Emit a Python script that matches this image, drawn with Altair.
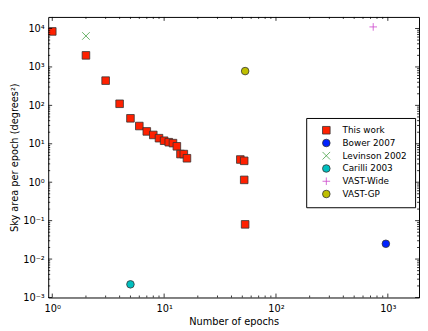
import json
import altair as alt
import pandas as pd

# ---------------- data ----------------
SERIES = ["This work", "Bower 2007", "Levinson 2002", "Carilli 2003", "VAST-Wide", "VAST-GP"]

this_work_epochs = [1, 2, 3, 4, 5, 6, 7, 8, 9, 10, 11, 12, 13, 14, 15, 16, 48, 52, 52, 53]
this_work_area = [8400, 2000, 440, 110, 46, 29, 21, 17, 14, 12, 11, 10.4, 8.6, 5.4, 5.4, 4.2,
                  3.9, 3.6, 1.15, 0.08]
bower_epochs = [960]
bower_area = [0.025]
levinson_epochs = [2]
levinson_area = [6400]
carilli_epochs = [5]
carilli_area = [0.0022]
vast_wide_epochs = [740]
vast_wide_area = [11000]
vast_gp_epochs = [53]
vast_gp_area = [780]

fill_colors = ["#ff2000", "#0022ff", "transparent", "#00bfbf", "transparent", "#bfbf00"]
stroke_colors = ["#333333", "#333333", "#44a044", "#333333", "#cc44cc", "#333333"]
shapes = ["square", "circle", "M-1,-1L1,1M-1,1L1,-1", "circle", "M-1,0L1,0M0,-1L0,1", "circle"]

x_major = [1, 10, 100, 1000]
x_minor = [2, 3, 4, 5, 6, 7, 8, 9, 20, 30, 40, 50, 60, 70, 80, 90,
           200, 300, 400, 500, 600, 700, 800, 900]
y_major = [0.001, 0.01, 0.1, 1, 10, 100, 1000, 10000]
y_minor = [0.002, 0.003, 0.004, 0.005, 0.006, 0.007, 0.008, 0.009,
           0.02, 0.03, 0.04, 0.05, 0.06, 0.07, 0.08, 0.09,
           0.2, 0.3, 0.4, 0.5, 0.6, 0.7, 0.8, 0.9,
           2, 3, 4, 5, 6, 7, 8, 9,
           20, 30, 40, 50, 60, 70, 80, 90,
           200, 300, 400, 500, 600, 700, 800, 900,
           2000, 3000, 4000, 5000, 6000, 7000, 8000, 9000]
x_labels = ["10⁰", "10¹", "10²", "10³"]
y_labels = ["10⁻³", "10⁻²", "10⁻¹", "10⁰", "10¹", "10²", "10³", "10⁴"]

# ---------------- tables ----------------
groups = [
    ("This work", this_work_epochs, this_work_area),
    ("Bower 2007", bower_epochs, bower_area),
    ("Levinson 2002", levinson_epochs, levinson_area),
    ("Carilli 2003", carilli_epochs, carilli_area),
    ("VAST-Wide", vast_wide_epochs, vast_wide_area),
    ("VAST-GP", vast_gp_epochs, vast_gp_area),
]
rows = []
for name, xs_, ys_ in groups:
    for a, b in zip(xs_, ys_):
        rows.append({"series": name, "v": a, "w": b})
df = pd.DataFrame(rows)

W, H = 378, 286
FONT = "DejaVu Sans"

xscale = alt.Scale(type="log", domain=[0.92, 1900], nice=False)
yscale = alt.Scale(type="log", domain=[0.001, 20000], nice=False)

x_expr = json.dumps(x_labels, ensure_ascii=False) + "[round(log(datum.value)/LN10)]"
y_expr = json.dumps(y_labels, ensure_ascii=False) + "[round(log(datum.value)/LN10)+3]"

x_axis = alt.Axis(values=x_major, labelExpr=x_expr, title="Number of epochs",
                  labelPadding=6, titlePadding=4)
y_axis = alt.Axis(values=y_major, labelExpr=y_expr, title="Sky area per epoch (degrees²)",
                  labelPadding=4, titlePadding=3)

legend = alt.Legend(
    title=None, orient="none", legendX=263, legendY=103,
    strokeColor="black", fillColor="white", padding=8, cornerRadius=0,
    labelFont=FONT, labelFontSize=9, labelColor="black",
    symbolSize=60, symbolOffset=8, labelOffset=12, rowPadding=2,
    symbolStrokeWidth=0.8,
)

points = alt.Chart(df).mark_point(size=60, opacity=1, strokeWidth=0.8).encode(
    x=alt.X("v:Q", scale=xscale, axis=x_axis),
    y=alt.Y("w:Q", scale=yscale, axis=y_axis),
    shape=alt.Shape("series:N", scale=alt.Scale(domain=SERIES, range=shapes), legend=legend),
    fill=alt.Fill("series:N", scale=alt.Scale(domain=SERIES, range=fill_colors), legend=legend),
    stroke=alt.Stroke("series:N", scale=alt.Scale(domain=SERIES, range=stroke_colors), legend=legend),
)


def xticks(vals, length, top):
    d = pd.DataFrame({"v": vals})
    if top:
        y0, y1 = 0, length
    else:
        y0, y1 = H, H - length
    return alt.Chart(d).mark_rule(color="black", strokeWidth=0.8).encode(
        x=alt.X("v:Q", scale=xscale, axis=x_axis),
        y=alt.value(y0), y2=alt.value(y1),
    )


def yticks(vals, length, right):
    d = pd.DataFrame({"w": vals})
    if right:
        x0, x1 = W, W - length
    else:
        x0, x1 = 0, length
    return alt.Chart(d).mark_rule(color="black", strokeWidth=0.8).encode(
        y=alt.Y("w:Q", scale=yscale, axis=y_axis),
        x=alt.value(x0), x2=alt.value(x1),
    )


tick_layers = [
    xticks(x_major, 4, False), xticks(x_minor, 2, False),
    xticks(x_major, 4, True), xticks(x_minor, 2, True),
    yticks(y_major, 4, False), yticks(y_minor, 2, False),
    yticks(y_major, 4, True), yticks(y_minor, 2, True),
]

chart = alt.layer(points, *tick_layers).properties(
    width=W, height=H,
    padding={"left": 41, "top": 6, "right": 1, "bottom": 29},
    autosize=alt.AutoSizeParams(type="none"),
).configure_view(
    stroke="black", strokeWidth=1
).configure_axis(
    domain=False, ticks=False, tickSize=0, grid=False,
    labelFont=FONT, labelFontSize=10, labelColor="black",
    titleFont=FONT, titleFontSize=10, titleFontWeight="normal", titleColor="black",
)

chart.save("out.html", embed_options={"renderer": "svg", "actions": False})
